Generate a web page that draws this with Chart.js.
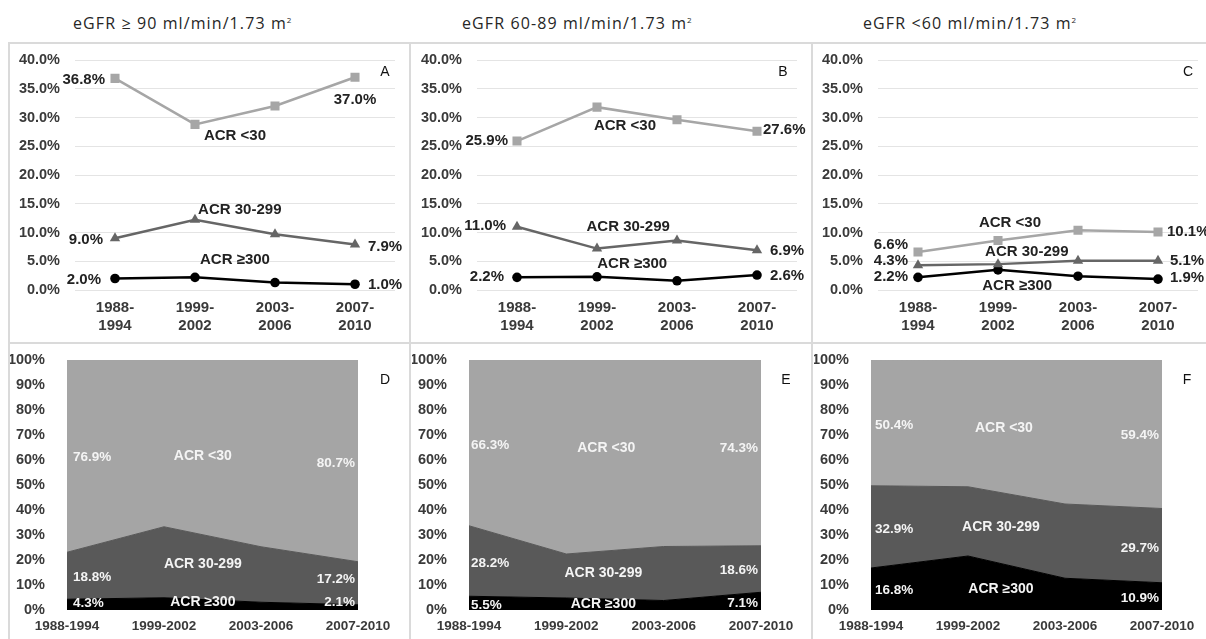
<!DOCTYPE html>
<html>
<head>
<meta charset="utf-8">
<script src="https://cdn.jsdelivr.net/npm/chart.js@4.4.1/dist/chart.umd.min.js"></script>
<style>
  html, body { margin: 0; padding: 0; background: #fff; }
  body { width: 1206px; height: 639px; position: relative; overflow: hidden; }
  .panel { position: absolute; border: 2px solid #dadada; box-sizing: border-box; }
  .title { position: absolute; top: 12px; font-family: "Open Sans", sans-serif; font-size: 16px; letter-spacing: 1.1px; color: #262626; white-space: nowrap; }
  .title sup { font-size: 8px; }
  .letter { position: absolute; font-family: "Liberation Sans", Arial, sans-serif; font-size: 14px; color: #111; transform: translate(-50%, -50%); }
  canvas { position: absolute; }
</style>
</head>
<body>
<div class="panel" style="left:8px;top:42px;width:403px;height:302px"></div>
<div class="panel" style="left:409px;top:42px;width:404px;height:302px"></div>
<div class="panel" style="left:811px;top:42px;width:400px;height:302px"></div>
<div class="panel" style="left:8px;top:342px;width:403px;height:302px"></div>
<div class="panel" style="left:409px;top:342px;width:404px;height:302px"></div>
<div class="panel" style="left:811px;top:342px;width:400px;height:302px"></div>

<div class="title" style="left:73px">eGFR ≥ 90 ml/min/1.73 m<sup>2</sup></div>
<div class="title" style="left:462px">eGFR 60-89 ml/min/1.73 m<sup>2</sup></div>
<div class="title" style="left:863px">eGFR &lt;60 ml/min/1.73 m<sup>2</sup></div>

<canvas id="chart-a" width="398" height="298" style="left:10px;top:44px"></canvas>
<canvas id="chart-b" width="398" height="298" style="left:412px;top:44px"></canvas>
<canvas id="chart-c" width="392" height="298" style="left:814px;top:44px"></canvas>
<canvas id="chart-d" width="398" height="294" style="left:10px;top:345px"></canvas>
<canvas id="chart-e" width="398" height="294" style="left:412px;top:345px"></canvas>
<canvas id="chart-f" width="392" height="294" style="left:814px;top:345px"></canvas>

<div class="letter" style="left:385px;top:71px">A</div>
<div class="letter" style="left:783px;top:71px">B</div>
<div class="letter" style="left:1188px;top:71px">C</div>
<div class="letter" style="left:385px;top:379px">D</div>
<div class="letter" style="left:786px;top:379px">E</div>
<div class="letter" style="left:1187px;top:379px">F</div>

<script>
// survey periods
const periodsTwoLine = [['1988-', '1994'], ['1999-', '2002'], ['2003-', '2006'], ['2007-', '2010']];
const periods = ['1988-1994', '1999-2002', '2003-2006', '2007-2010'];

// prevalence (%) by eGFR group, top row
const acrLowA = [36.8, 28.8, 32.0, 37.0];
const acrMidA = [9.0, 12.2, 9.7, 7.9];
const acrHighA = [2.0, 2.2, 1.3, 1.0];

const acrLowB = [25.9, 31.8, 29.6, 27.6];
const acrMidB = [11.0, 7.2, 8.6, 6.9];
const acrHighB = [2.2, 2.3, 1.6, 2.6];

const acrLowC = [6.6, 8.6, 10.4, 10.1];
const acrMidC = [4.3, 4.5, 5.1, 5.1];
const acrHighC = [2.2, 3.5, 2.4, 1.9];

// share within group (%), bottom row
const shareHighD = [4.3, 4.9, 3.1, 2.1];
const shareMidD = [18.8, 28.4, 22.2, 17.2];
const shareLowD = [76.9, 66.7, 74.7, 80.7];

const shareHighE = [5.5, 4.8, 3.8, 7.1];
const shareMidE = [28.2, 17.6, 21.6, 18.6];
const shareLowE = [66.3, 77.6, 74.6, 74.3];

const shareHighF = [16.8, 21.6, 12.7, 10.9];
const shareMidF = [32.9, 27.7, 29.7, 29.7];
const shareLowF = [50.4, 50.7, 57.6, 59.4];

const lineTicks = [0, 5, 10, 15, 20, 25, 30, 35, 40];
const areaTicks = [0, 10, 20, 30, 40, 50, 60, 70, 80, 90, 100];

const FONT = '"Liberation Sans", Arial, sans-serif';
const TICK_COLOR = '#3a3a3a';
const LIGHT = '#a6a6a6';
const MID = '#666666';
const DARK = '#000000';

Chart.defaults.font.family = FONT;

const pct = (v) => `${v.toFixed(1)}%`;

const panelText = {
  id: 'panelText',
  afterDatasetsDraw(chart, args, opts) {
    const { ctx } = chart;
    const xScale = chart.scales.x;
    const yScale = chart.scales.y;
    ctx.save();
    ctx.textBaseline = 'middle';
    (opts.items || []).forEach((item) => {
      let px;
      let py;
      if (item.point) {
        const el = chart.getDatasetMeta(item.point[0]).data[item.point[1]];
        px = el.x;
        py = el.y;
      } else {
        px = xScale.getPixelForValue(item.x);
        py = yScale.getPixelForValue(item.y);
      }
      ctx.font = item.font || opts.font;
      ctx.fillStyle = item.color || opts.color;
      ctx.textAlign = item.align || 'center';
      ctx.fillText(item.text, px + (item.dx || 0), py + (item.dy || 0));
    });
    ctx.restore();
  }
};

// fixed y-axis width; drop the label-driven top/bottom padding so layout.padding decides
function fixYAxis(width) {
  return (scale) => {
    scale.width = width;
    scale.paddingTop = 0;
    scale.paddingBottom = 0;
  };
}

function lineChart(id, low, mid, high, rightPad, axisWidth, items) {
  const series = [
    { data: low, color: LIGHT, style: 'rect', radius: 6.4 },
    { data: mid, color: MID, style: 'triangle', radius: 6 },
    { data: high, color: DARK, style: 'circle', radius: 4.8 }
  ];
  return new Chart(document.getElementById(id), {
    type: 'line',
    data: {
      labels: periodsTwoLine,
      datasets: series.map((s) => ({
        data: s.data,
        borderColor: s.color,
        backgroundColor: s.color,
        borderWidth: 2.5,
        pointStyle: s.style,
        pointRadius: s.radius,
        pointBorderWidth: 0,
        tension: 0,
        fill: false
      }))
    },
    options: {
      responsive: false,
      animation: false,
      layout: { padding: { top: 16, right: rightPad, bottom: 0, left: 0 } },
      plugins: {
        legend: { display: false },
        tooltip: { enabled: false },
        panelText: { font: `bold 15px ${FONT}`, color: '#222', items }
      },
      scales: {
        x: {
          offset: true,
          grid: { display: false },
          border: { display: false },
          ticks: { color: TICK_COLOR, font: { size: 15, weight: 'bold' }, padding: 1, maxRotation: 0, autoSkip: false },
          afterFit: (scale) => { scale.height = 52; }
        },
        y: {
          min: 0,
          max: 40,
          afterBuildTicks: (scale) => { scale.ticks = lineTicks.map((v) => ({ value: v })); },
          ticks: { color: TICK_COLOR, font: { size: 14.5, weight: 'bold' }, padding: 15, callback: (v) => pct(v) },
          grid: { color: '#e4e4e4', drawTicks: false, lineWidth: 1 },
          border: { display: false },
          afterFit: fixYAxis(axisWidth)
        }
      }
    },
    plugins: [panelText]
  });
}

function areaChart(id, high, mid, low, rightPad, items) {
  const layers = [
    { data: high, color: '#000000', fill: 'origin' },
    { data: mid, color: '#595959', fill: '-1' },
    { data: low, color: '#a5a5a5', fill: '-1' }
  ];
  return new Chart(document.getElementById(id), {
    type: 'line',
    data: {
      labels: periods,
      datasets: layers.map((l) => ({
        data: l.data,
        borderColor: l.color,
        backgroundColor: l.color,
        borderWidth: 1,
        pointRadius: 0,
        tension: 0,
        fill: l.fill
      }))
    },
    options: {
      responsive: false,
      animation: false,
      layout: { padding: { top: 15, right: rightPad, bottom: 0, left: 0 } },
      plugins: {
        legend: { display: false },
        tooltip: { enabled: false },
        panelText: { font: `bold 13.5px ${FONT}`, color: '#f4f4f4', items }
      },
      scales: {
        x: {
          offset: false,
          grid: { display: false },
          border: { display: false },
          ticks: { color: TICK_COLOR, font: { size: 13.5, weight: 'bold' }, padding: 0, maxRotation: 0, autoSkip: false },
          afterFit: (scale) => { scale.height = 29; }
        },
        y: {
          stacked: true,
          min: 0,
          max: 100,
          afterBuildTicks: (scale) => { scale.ticks = areaTicks.map((v) => ({ value: v })); },
          ticks: { color: TICK_COLOR, font: { size: 14.5, weight: 'bold' }, padding: 14, callback: (v) => `${v}%` },
          grid: { display: false },
          border: { display: false },
          afterFit: fixYAxis(57)
        }
      }
    },
    plugins: [panelText]
  });
}

const nameFont = `bold 14px ${FONT}`;

lineChart('chart-a', acrLowA, acrMidA, acrHighA, 13, 65, [
  { text: pct(acrLowA[0]), point: [0, 0], align: 'right', dx: -10, dy: 1 },
  { text: pct(acrLowA[3]), point: [0, 3], dy: 23 },
  { text: pct(acrMidA[0]), point: [1, 0], align: 'right', dx: -12, dy: 2 },
  { text: pct(acrMidA[3]), point: [1, 3], align: 'left', dx: 13, dy: 2 },
  { text: pct(acrHighA[0]), point: [2, 0], align: 'right', dx: -14, dy: 1 },
  { text: pct(acrHighA[3]), point: [2, 3], align: 'left', dx: 13, dy: 1 },
  { text: 'ACR <30', x: 1.5, y: 26.8 },
  { text: 'ACR 30-299', x: 1.56, y: 13.9 },
  { text: 'ACR ≥300', x: 1.5, y: 5.2 }
]);

lineChart('chart-b', acrLowB, acrMidB, acrHighB, 13, 65, [
  { text: pct(acrLowB[0]), point: [0, 0], align: 'right', dx: -9 },
  { text: pct(acrLowB[3]), point: [0, 3], align: 'left', dx: 6, dy: -1 },
  { text: pct(acrMidB[0]), point: [1, 0], align: 'right', dx: -11, dy: -1 },
  { text: pct(acrMidB[3]), point: [1, 3], align: 'left', dx: 13, dy: 1 },
  { text: pct(acrHighB[0]), point: [2, 0], align: 'right', dx: -13 },
  { text: pct(acrHighB[3]), point: [2, 3], align: 'left', dx: 13, dy: 1 },
  { text: 'ACR <30', x: 1.35, y: 28.5 },
  { text: 'ACR 30-299', x: 1.39, y: 11.0 },
  { text: 'ACR ≥300', x: 1.44, y: 4.5 }
]);

lineChart('chart-c', acrLowC, acrMidC, acrHighC, 8, 64, [
  { text: pct(acrLowC[0]), point: [0, 0], align: 'right', dx: -10, dy: -7 },
  { text: pct(acrLowC[3]), point: [0, 3], align: 'left', dx: 9 },
  { text: pct(acrMidC[0]), point: [1, 0], align: 'right', dx: -10, dy: -4 },
  { text: pct(acrMidC[3]), point: [1, 3], align: 'left', dx: 12 },
  { text: pct(acrHighC[0]), point: [2, 0], align: 'right', dx: -10 },
  { text: pct(acrHighC[3]), point: [2, 3], align: 'left', dx: 12, dy: -1 },
  { text: 'ACR <30', x: 1.15, y: 11.7 },
  { text: 'ACR 30-299', x: 1.36, y: 6.6 },
  { text: 'ACR ≥300', x: 1.24, y: 0.7 }
]);

areaChart('chart-d', shareHighD, shareMidD, shareLowD, 50, [
  { text: pct(shareLowD[0]), x: 0, y: 61.2, align: 'left', dx: 6 },
  { text: pct(shareLowD[3]), x: 3, y: 58.8, align: 'right', dx: -3 },
  { text: 'ACR <30', x: 1.4, y: 61.6, font: nameFont },
  { text: pct(shareMidD[0]), x: 0, y: 13.2, align: 'left', dx: 6 },
  { text: pct(shareMidD[3]), x: 3, y: 12.4, align: 'right', dx: -3 },
  { text: 'ACR 30-299', x: 1.4, y: 18.4, font: nameFont },
  { text: pct(shareHighD[0]), x: 0, y: 2.8, align: 'left', dx: 6 },
  { text: pct(shareHighD[3]), x: 3, y: 3.2, align: 'right', dx: -3 },
  { text: 'ACR ≥300', x: 1.4, y: 3.2, font: nameFont }
]);

areaChart('chart-e', shareHighE, shareMidE, shareLowE, 49, [
  { text: pct(shareLowE[0]), x: 0, y: 66, align: 'left', dx: 2 },
  { text: pct(shareLowE[3]), x: 3, y: 64.8, align: 'right', dx: -3 },
  { text: 'ACR <30', x: 1.41, y: 64.8, font: nameFont },
  { text: pct(shareMidE[0]), x: 0, y: 18.8, align: 'left', dx: 2 },
  { text: pct(shareMidE[3]), x: 3, y: 16, align: 'right', dx: -3 },
  { text: 'ACR 30-299', x: 1.38, y: 14.8, font: nameFont },
  { text: pct(shareHighE[0]), x: 0, y: 2, align: 'left', dx: 2 },
  { text: pct(shareHighE[3]), x: 3, y: 2.8, align: 'right', dx: -3 },
  { text: 'ACR ≥300', x: 1.38, y: 2.4, font: nameFont }
]);

areaChart('chart-f', shareHighF, shareMidF, shareLowF, 44, [
  { text: pct(shareLowF[0]), x: 0, y: 74, align: 'left', dx: 4 },
  { text: pct(shareLowF[3]), x: 3, y: 70, align: 'right', dx: -3 },
  { text: 'ACR <30', x: 1.37, y: 72.8, font: nameFont },
  { text: pct(shareMidF[0]), x: 0, y: 32.4, align: 'left', dx: 4 },
  { text: pct(shareMidF[3]), x: 3, y: 24.8, align: 'right', dx: -3 },
  { text: 'ACR 30-299', x: 1.34, y: 33.2, font: nameFont },
  { text: pct(shareHighF[0]), x: 0, y: 8, align: 'left', dx: 4 },
  { text: pct(shareHighF[3]), x: 3, y: 4.8, align: 'right', dx: -3 },
  { text: 'ACR ≥300', x: 1.34, y: 8.4, font: nameFont }
]);
</script>
</body>
</html>
